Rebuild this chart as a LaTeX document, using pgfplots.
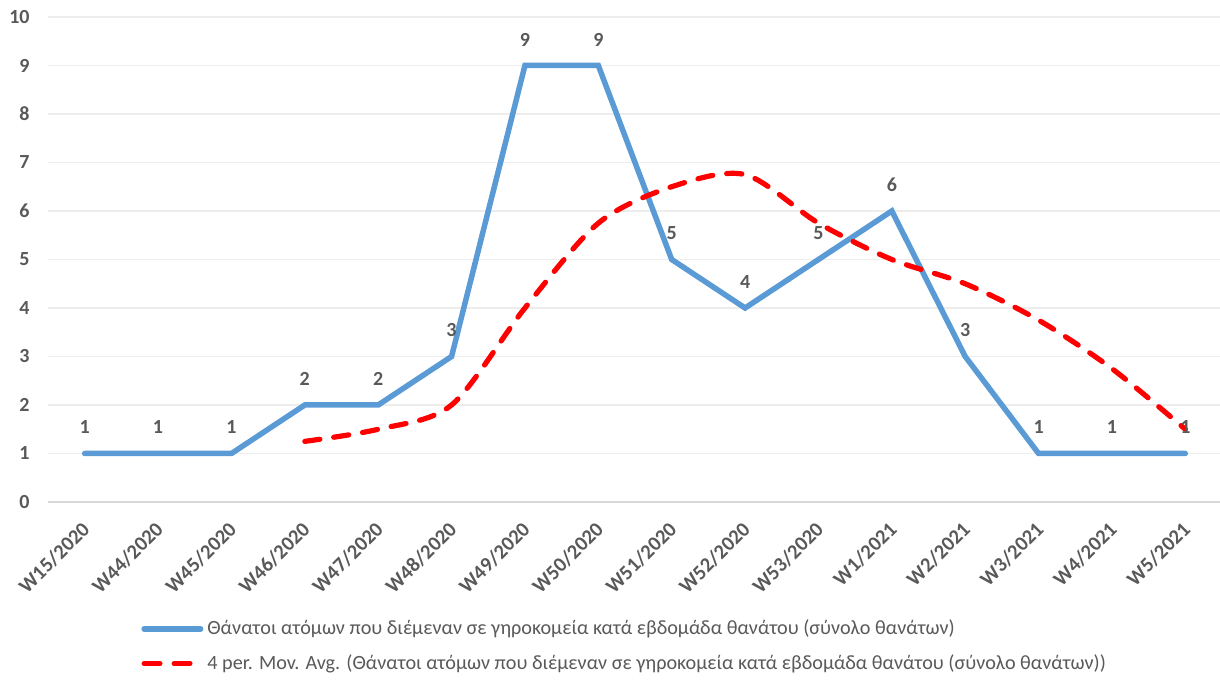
\documentclass[border=0pt]{standalone}
\usepackage{pgfplots}
\pgfplotsset{compat=1.18}
\usepackage{fontspec}
\setmainfont{Carlito}
\definecolor{ublue}{HTML}{5B9BD5}
\definecolor{txtgray}{HTML}{595959}
\definecolor{gridgray}{HTML}{EDEDED}
\definecolor{axgray}{HTML}{D9D9D9}
\pgfplotsset{
  bluleg/.style={legend image code/.code={\draw[##1] (0pt,0pt) -- (28.25pt,0pt);}},
  redleg/.style={legend image code/.code={\draw[##1, dash pattern=on 7.9pt off 7.1pt] (0pt,0pt) -- (23pt,0pt);}},
}
\pgfplotstableread{
x y
0 1
1 1
2 1
3 2
4 2
5 3
6 9
7 9
8 5
9 4
10 5
11 6
12 3
13 1
14 1
15 1
}\deaths
\pgfplotstableread{
x y
3 1.25
4 1.5
5 2
6 4
7 5.75
8 6.5
9 6.75
10 5.75
11 5
12 4.5
13 3.75
14 2.75
15 1.5
}\movavg
\begin{document}
\begin{tikzpicture}
\begin{axis}[
  at={(24pt,89pt)}, anchor=south west,
  scale only axis, width=587pt, height=242.5pt,
  xmin=-0.5, xmax=15.5, ymin=0, ymax=10,
  xtick={0,...,15},
  xticklabels={W15/2020,W44/2020,W45/2020,W46/2020,W47/2020,W48/2020,W49/2020,W50/2020,W51/2020,W52/2020,W53/2020,W1/2021,W2/2021,W3/2021,W4/2021,W5/2021},
  ytick={0,...,10},
  /pgf/number format/assume math mode=true,
  tick style={draw=none},
  axis line style={draw=none},
  axis x line*=bottom, axis y line*=left,
  ymajorgrids, grid style={gridgray, line width=0.8pt},
  extra y ticks={0}, extra y tick labels={},
  extra y tick style={grid style={axgray, line width=0.9pt}},
  yticklabel style={font=\fontsize{10}{12}\selectfont\bfseries, text=txtgray, inner sep=0pt, xshift=-9pt},
  xticklabel style={font=\fontsize{10.3}{12}\selectfont\bfseries, text=txtgray, inner sep=0pt, xshift=0.8pt, yshift=-11.8pt, rotate=45, anchor=east},
  legend style={at={(rel axis cs:0.0792,-0.234)}, anchor=north west, draw=none, fill=none, inner sep=0pt,
    font=\fontsize{10.1}{12}\selectfont, text=txtgray, row sep=4.5pt,
    /tikz/every even column/.append style={column sep=0pt}},
  legend cell align=left,
  clip=false,
]
\addplot[ublue, line width=2.75pt, line cap=round, line join=miter, bluleg,
  nodes near coords, every node near coord/.append style={font=\fontsize{10}{12}\selectfont\bfseries, text=txtgray, anchor=center, yshift=13pt}]
  table[x=x,y=y] {\deaths};
\addlegendentry{Θάνατοι ατόμων που διέμεναν σε γηροκομεία κατά εβδομάδα θανάτου (σύνολο θανάτων)}
\addplot[red, line width=2.6pt, line cap=round, dash pattern=on 7.6pt off 7pt, smooth, tension=0.5, redleg]
  table[x=x,y=y] {\movavg};
\addlegendentry{4 per. Mov. Avg. (Θάνατοι ατόμων που διέμεναν σε γηροκομεία κατά εβδομάδα θανάτου (σύνολο θανάτων))}
\end{axis}
\pgfresetboundingbox
\path[use as bounding box] (0,0) rectangle (610pt,340pt);
\end{tikzpicture}
\end{document}
